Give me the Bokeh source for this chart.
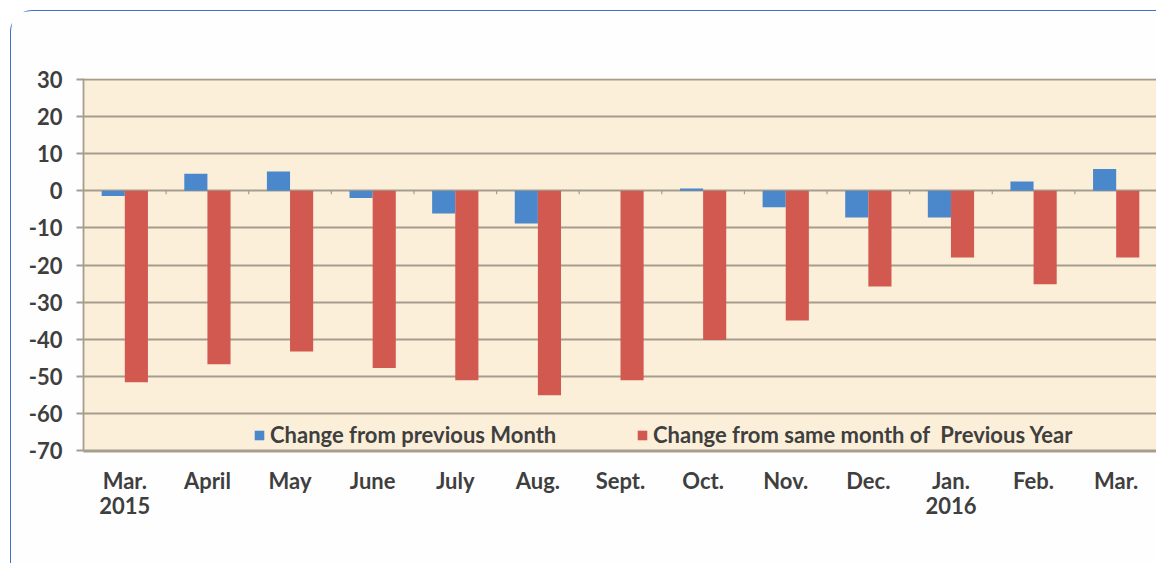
from bokeh.plotting import figure
from bokeh.models import (ColumnDataSource, FactorRange, Range1d, FixedTicker,
                          Legend, LegendItem)
from bokeh.transform import dodge
from bokeh.embed import file_html
from bokeh.resources import INLINE

# ---- data ----
categories = ["Mar.\n2015", "April", "May", "June", "July", "Aug.", "Sept.",
              "Oct.", "Nov.", "Dec.", "Jan.\n2016", "Feb.", "Mar."]
prev_month = [-1.4, 4.6, 5.2, -1.9, -6.1, -8.8, 0.0, 0.6, -4.4, -7.2, -7.2, 2.5, 5.9]
prev_year = [-51.6, -46.8, -43.3, -47.8, -51.1, -55.1, -51.1, -40.2, -35.0,
             -25.8, -18.0, -25.2, -18.0]
y_ticks = [30, 20, 10, 0, -10, -20, -30, -40, -50, -60, -70]
y_tick_labels = ["30", "20", "10", "0", "-10", "-20", "-30", "-40", "-50", "-60", "-70"]
series_names = ["Change from previous Month",
                "Change from same month of  Previous Year"]

# ---- style ----
BLUE = "#4a87cb"
RED = "#d2594f"
BG = "#fcefd9"
GRID = "#a59e8e"
TXT = "#3f3f3f"
FONT = "Lato"
FS = "22px"

src = ColumnDataSource(dict(cat=categories, pm=prev_month, py=prev_year))

p = figure(width=1146, height=553, x_range=FactorRange(*categories, range_padding=0),
           y_range=Range1d(min(y_ticks) - 0.3, max(y_ticks) + 0.3),
           output_backend="svg", toolbar_location=None,
           min_border_left=72, min_border_right=0, min_border_top=67,
           min_border_bottom=113)
p.styles = {"margin-left": "10px", "margin-top": "10px",
            "border-left": "1.5px solid #3b72c8", "border-top": "1.5px solid #3b72c8",
            "border-top-left-radius": "22px"}
p.background_fill_color = BG
p.border_fill_color = "#fefefe"
p.outline_line_color = None

bw = 0.28
r1 = p.vbar(x=dodge("cat", -bw / 2, range=p.x_range), top="pm", bottom=0, width=bw,
            source=src, fill_color=BLUE, line_color=None)
r2 = p.vbar(x=dodge("cat", bw / 2, range=p.x_range), top="py", bottom=0, width=bw,
            source=src, fill_color=RED, line_color=None)

# small tick marks on the zero line at category boundaries
bounds = list(range(len(categories) + 1))
p.segment(x0=bounds, x1=bounds, y0=[0] * len(bounds), y1=[-0.9] * len(bounds),
          line_color=GRID, line_width=1.2)

# grid
p.xgrid.grid_line_color = None
p.ygrid.grid_line_color = GRID
p.ygrid.grid_line_width = 1.8
p.ygrid.ticker = FixedTicker(ticks=y_ticks)

# y axis
p.yaxis.ticker = FixedTicker(ticks=y_ticks)
p.yaxis.major_label_overrides = dict(zip(y_ticks, y_tick_labels))
p.yaxis.axis_line_color = GRID
p.yaxis.axis_line_width = 1.8
p.yaxis.major_tick_line_color = GRID
p.yaxis.major_tick_line_width = 1.8
p.yaxis.major_tick_out = 7
p.yaxis.major_tick_in = 0
p.yaxis.minor_tick_line_color = None
p.yaxis.major_label_standoff = 14
p.yaxis.major_label_text_font = FONT
p.yaxis.major_label_text_font_style = "bold"
p.yaxis.major_label_text_font_size = FS
p.yaxis.major_label_text_color = TXT

# x axis
p.xaxis.axis_line_color = GRID
p.xaxis.axis_line_width = 1.8
p.xaxis.major_tick_line_color = None
p.xaxis.minor_tick_line_color = None
p.xaxis.major_label_standoff = 9
p.xaxis.major_label_text_font = FONT
p.xaxis.major_label_text_font_style = "bold"
p.xaxis.major_label_text_font_size = FS
p.xaxis.major_label_text_color = TXT
p.xaxis.major_label_text_line_height = 0.95

# legends (two, placed separately like the reference)
for rend, name, loc in [(r1, series_names[0], (170, 3)), (r2, series_names[1], (553, 3))]:
    lg = Legend(items=[LegendItem(label=name, renderers=[rend])], location=loc,
                orientation="horizontal", background_fill_alpha=0,
                border_line_color=None, padding=0, margin=0,
                glyph_width=12, glyph_height=12, label_standoff=5,
                label_text_font=FONT, label_text_font_style="bold",
                label_text_font_size=FS, label_text_color=TXT)
    p.add_layout(lg, "center")

open("out.html", "w").write(file_html(p, INLINE))
